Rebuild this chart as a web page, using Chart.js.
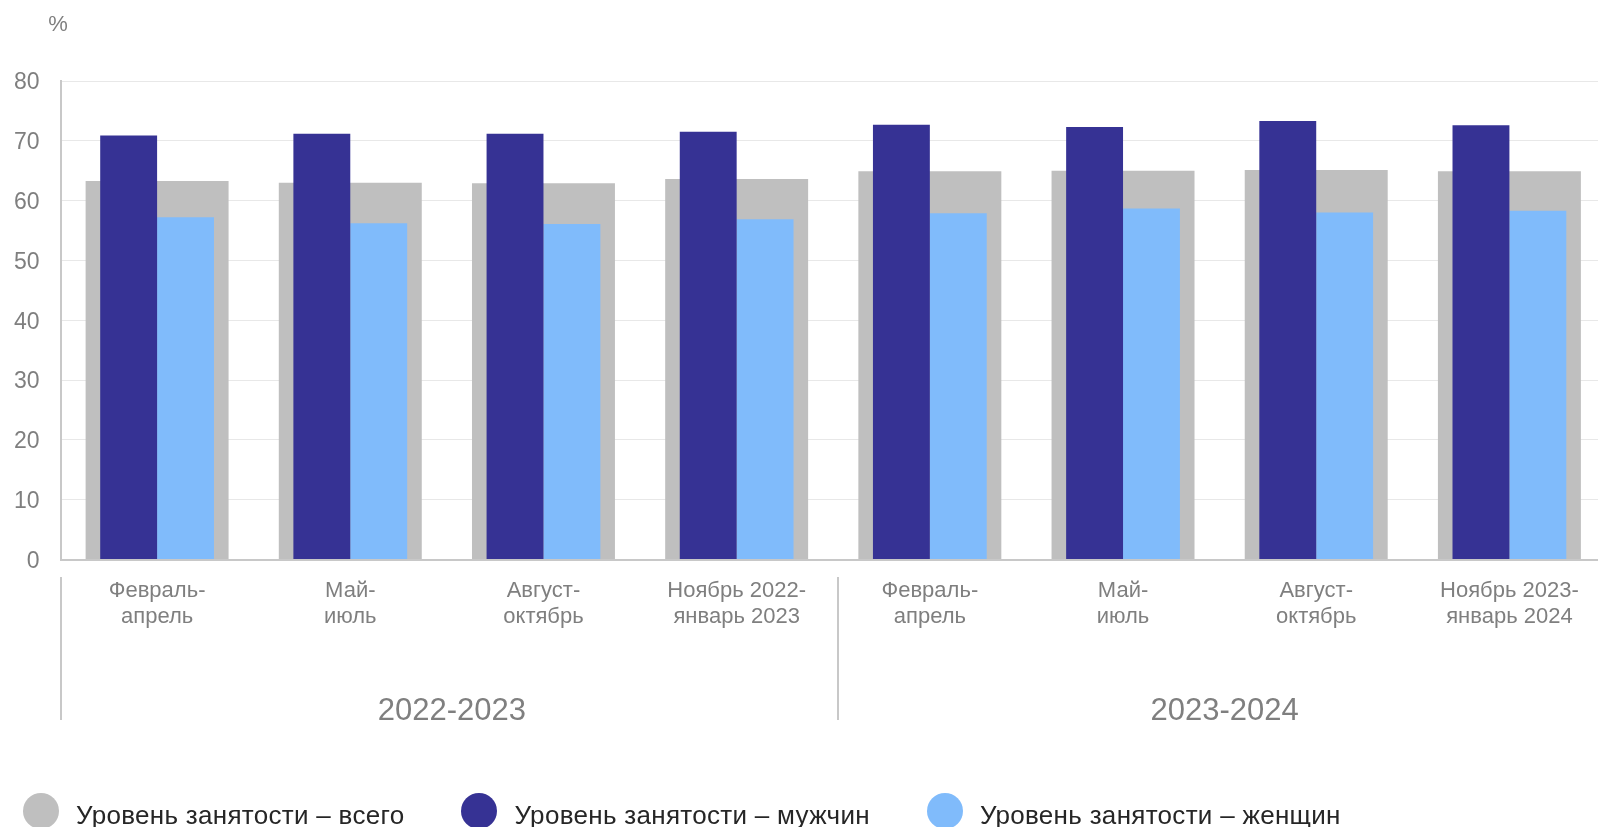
<!DOCTYPE html>
<html lang="ru">
<head>
  <meta charset="UTF-8">
  <title>Уровень занятости</title>
  <script src="https://cdn.jsdelivr.net/npm/chart.js"></script>
  <style>
    html, body {
      margin: 0;
      padding: 0;
      background: #fff;
      overflow: hidden;
      font-family: 'Liberation Sans', Arial, sans-serif;
    }
    .wrap {
      position: relative;
      width: 1598px;
      height: 827px;
      overflow: hidden;
    }
    .chart-box {
      position: absolute;
      left: 0;
      top: 0;
      width: 1606px;
      height: 827px;
    }
    #legend {
      position: absolute;
      left: 23px;
      top: 793px;
      display: flex;
      align-items: center;
      gap: 57px;
    }
    .item {
      display: flex;
      align-items: center;
      gap: 17px;
      font-size: 26px;
      letter-spacing: 0.3px;
      color: #262626;
      white-space: nowrap;
    }
    .item span:last-child {
      position: relative;
      top: 4px;
    }
    .dot {
      width: 36px;
      height: 36px;
      border-radius: 50%;
    }
  </style>
</head>
<body>
  <div class="wrap">
    <div class="chart-box"><canvas id="chart"></canvas></div>
    <div id="legend"></div>
  </div>

  <script>
    // data
    const categories = [
      ['Февраль-', 'апрель'], ['Май-', 'июль'], ['Август-', 'октябрь'], ['Ноябрь 2022-', 'январь 2023'],
      ['Февраль-', 'апрель'], ['Май-', 'июль'], ['Август-', 'октябрь'], ['Ноябрь 2023-', 'январь 2024']
    ];
    const periods = ['2022-2023', '2023-2024'];
    const periodLength = [4, 4];
    const seriesNames = ['Уровень занятости – всего', 'Уровень занятости – мужчин', 'Уровень занятости – женщин'];
    const totalRate = [63.3, 63.0, 62.9, 63.6, 64.9, 65.0, 65.1, 64.9];
    const menRate = [70.9, 71.2, 71.2, 71.5, 72.7, 72.3, 73.3, 72.6];
    const womenRate = [57.2, 56.2, 56.1, 56.9, 57.9, 58.7, 58.0, 58.3];
    const yTicks = [0, 10, 20, 30, 40, 50, 60, 70, 80];
    const unitLabel = '%';

    const colors = ['#bfbfbf', '#363294', '#80bbfb'];
    const FONT = "'Liberation Sans', Arial, sans-serif";
    const GREY_TEXT = '#7f7f7f';
    const LINE = '#c8c8c8';

    // separators, period names and the unit label
    const periodPlugin = {
      id: 'periods',
      afterDraw(chart) {
        const ctx = chart.ctx;
        const x = chart.scales.x;
        ctx.save();
        ctx.strokeStyle = LINE;
        ctx.lineWidth = 2;
        ctx.fillStyle = GREY_TEXT;
        ctx.font = '31px ' + FONT;
        ctx.textAlign = 'center';
        ctx.textBaseline = 'middle';

        let start = 0;
        periods.forEach((name, i) => {
          const end = start + periodLength[i] - 1;
          const left = i === 0 ? x.left : (x.getPixelForValue(start - 1) + x.getPixelForValue(start)) / 2 + 5;
          ctx.beginPath();
          ctx.moveTo(Math.round(left), 577);
          ctx.lineTo(Math.round(left), 720);
          ctx.stroke();
          const mid = (x.getPixelForValue(start) + x.getPixelForValue(end)) / 2 + 5;
          ctx.fillText(name, mid, 711);
          start = end + 1;
        });

        ctx.font = '22px ' + FONT;
        ctx.fillText(unitLabel, 58, 25);
        ctx.restore();
      }
    };

    new Chart(document.getElementById('chart'), {
      type: 'bar',
      data: {
        labels: categories,
        datasets: [
          {
            label: seriesNames[0],
            data: totalRate,
            backgroundColor: colors[0],
            grouped: false,
            categoryPercentage: 0.74,
            barPercentage: 1,
            order: 2
          },
          {
            label: seriesNames[1],
            data: menRate,
            backgroundColor: colors[1],
            categoryPercentage: 0.589,
            barPercentage: 1,
            order: 1
          },
          {
            label: seriesNames[2],
            data: womenRate,
            backgroundColor: colors[2],
            categoryPercentage: 0.589,
            barPercentage: 1,
            order: 1
          }
        ]
      },
      options: {
        responsive: true,
        maintainAspectRatio: false,
        animation: false,
        layout: { padding: { top: 81, left: 0, right: 0, bottom: 0 } },
        plugins: {
          legend: { display: false },
          tooltip: { enabled: false }
        },
        scales: {
          x: {
            grid: { display: false, drawTicks: false },
            border: { display: true, color: LINE, width: 2 },
            ticks: {
              color: GREY_TEXT,
              font: { family: FONT, size: 22 },
              padding: 18,
              maxRotation: 0,
              autoSkip: false
            },
            afterFit(scale) { scale.height = 267.5; }
          },
          y: {
            min: 0,
            max: 80,
            afterBuildTicks(scale) { scale.ticks = yTicks.map(v => ({ value: v })); },
            grid: { color: '#e8e8e8', lineWidth: 1, drawTicks: false },
            border: { display: true, color: LINE, width: 2 },
            ticks: {
              color: GREY_TEXT,
              font: { family: FONT, size: 23 },
              padding: 21,
              labelOffset: 2
            },
            afterFit(scale) { scale.width = 60.5; }
          }
        }
      },
      plugins: [periodPlugin]
    });

    // legend
    const legend = document.getElementById('legend');
    seriesNames.forEach((name, i) => {
      const item = document.createElement('div');
      item.className = 'item';
      const dot = document.createElement('span');
      dot.className = 'dot';
      dot.style.background = colors[i];
      const text = document.createElement('span');
      text.textContent = name;
      item.appendChild(dot);
      item.appendChild(text);
      legend.appendChild(item);
    });
  </script>
</body>
</html>
